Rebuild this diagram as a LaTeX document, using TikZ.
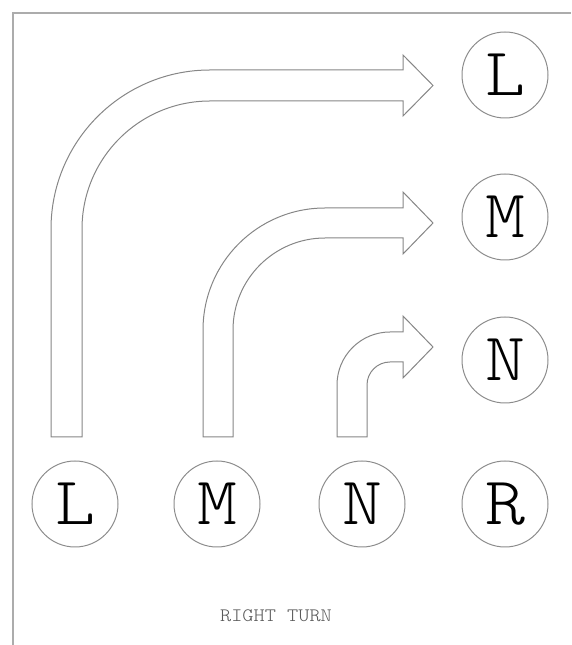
\documentclass[tikz,border=0pt]{standalone}
\usepackage{fontspec}
\newfontfamily\lanefont[FakeStretch=1.12]{Latin Modern Mono Light}
\begin{document}
\begin{tikzpicture}[x=1pt, y=1pt,
	lane/.style={circle, draw=gray!90, line width=1pt, minimum size=86pt, inner sep=0pt, font=\lanefont\fontsize{68}{68}\selectfont},
	turn/.style={draw=gray!95, line width=1pt, line join=miter},
	frameline/.style={draw=gray!65, line width=2pt}]
	\useasboundingbox (0,0) rectangle (571,645);
		\draw[frameline] (13,0) -- (13,632) -- (571,632);

	\node[lane] (fromL) at (75,141) {L};
	\node[lane] (fromM) at (217,141) {M};
	\node[lane] (fromN) at (362,141) {N};
	\node[lane] (fromR) at (505,141) {R};
	\node[lane] (toL) at (505,570) {L};
	\node[lane] (toM) at (505,428) {M};
	\node[lane] (toN) at (505,285) {N};

	\draw[turn] (51,208) -- (51,416) arc[start angle=180, end angle=90, radius=159] -- (403,575) -- (403,590) -- (433,559.5) -- (403,529) -- (403,544) -- (210,544) arc[start angle=90, end angle=180, radius=128] -- (82,208) -- cycle;
	\draw[turn] (203,208) -- (203,315) arc[start angle=180, end angle=90, radius=122] -- (403,437) -- (403,453) -- (433,422) -- (403,391) -- (403,407) -- (325,407) arc[start angle=90, end angle=180, radius=92] -- (233,208) -- cycle;
	\draw[turn] (337,208) -- (337,260) arc[start angle=180, end angle=90, radius=53] -- (403,313) -- (403,329) -- (433,298) -- (403,267) -- (403,283) -- (390,283) arc[start angle=90, end angle=180, radius=23] -- (367,208) -- cycle;

	\node[font=\lanefont\fontsize{19}{19}\selectfont, text=gray!70!black] (caption) at (276,29) {RIGHT TURN};
\end{tikzpicture}
\end{document}
